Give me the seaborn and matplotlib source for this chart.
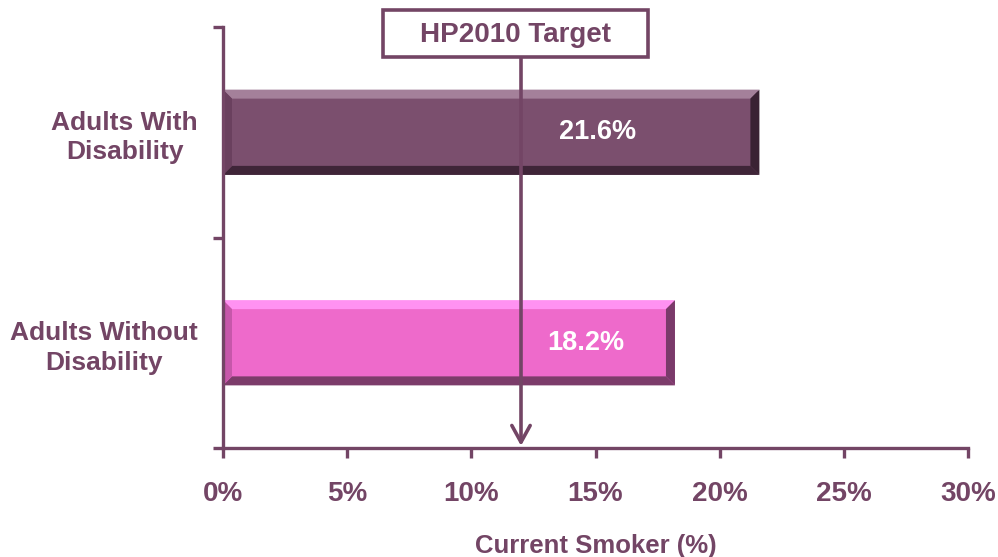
import matplotlib
matplotlib.use("Agg")
import matplotlib.pyplot as plt
import matplotlib.transforms as mtransforms
from matplotlib.patches import Polygon, Rectangle
import seaborn as sns
import pandas as pd

categories = ["Adults With\nDisability", "Adults Without\nDisability"]
values = [21.6, 18.2]
value_labels = ["21.6%", "18.2%"]
target_value = 12.0
target_label = "HP2010 Target"
x_ticks = [0, 5, 10, 15, 20, 25, 30]
x_tick_labels = ["0%", "5%", "10%", "15%", "20%", "25%", "30%"]
x_label = "Current Smoker (%)"

PURPLE = "#734565"
bar_colors = ["#7B4F6E", "#EE6ACB"]
label_offsets = [-6.5, -3.6]
bevel_colors = [
    # top, bottom, left, right
    ("#A4809A", "#3F2538", "#6A405E", "#3A2233"),
    ("#FF92F2", "#7C3C6A", "#C657AA", "#7A3A6A"),
]

sns.set_theme(style="white")
plt.rcParams["font.family"] = ["Liberation Sans", "DejaVu Sans"]

fig = plt.figure(figsize=(9.98, 5.57), dpi=100)
ax = fig.add_axes([223 / 998, 1 - 448 / 557, (968 - 223) / 998, (448 - 27) / 557])

df = pd.DataFrame({"cat": categories, "val": values})
sns.barplot(data=df, x="val", y="cat", hue="cat", palette=bar_colors,
            orient="h", width=0.405, legend=False, ax=ax, saturation=1)

ax.set_xlim(0, 30)
ax.set_ylim(1.5, -0.5)

fig.canvas.draw()
# bevel effect derived from each bar's geometry
inv = ax.transData.inverted()
for patch, (ct, cb, cl, cr) in zip(ax.patches, bevel_colors):
    x0, y0 = patch.get_x(), patch.get_y()
    w, h = patch.get_width(), patch.get_height()
    x1, y1 = x0 + w, y0 + h
    p0 = ax.transData.transform((x0, y0))
    pb = inv.transform((p0[0] + 9, p0[1] - 9))
    dx = pb[0] - x0
    dy = pb[1] - y0
    top = Polygon([(x0, y0), (x1, y0), (x1 - dx, y0 + dy), (x0 + dx, y0 + dy)], closed=True, color=ct, lw=0)
    bot = Polygon([(x0, y1), (x1, y1), (x1 - dx, y1 - dy), (x0 + dx, y1 - dy)], closed=True, color=cb, lw=0)
    lef = Polygon([(x0, y0), (x0 + dx, y0 + dy), (x0 + dx, y1 - dy), (x0, y1)], closed=True, color=cl, lw=0)
    rig = Polygon([(x1, y0), (x1 - dx, y0 + dy), (x1 - dx, y1 - dy), (x1, y1)], closed=True, color=cr, lw=0)
    for p in (top, bot, lef, rig):
        ax.add_patch(p)

for i, (v, lab, off) in enumerate(zip(values, value_labels, label_offsets)):
    ax.text(v + off, i, lab, ha="center", va="center", color="white",
            fontsize=19.5, fontweight="bold")

# axes styling
for s in ["top", "right"]:
    ax.spines[s].set_visible(False)
for s in ["left", "bottom"]:
    ax.spines[s].set_color(PURPLE)
    ax.spines[s].set_linewidth(2.4)
ax.spines["bottom"].set_bounds(0, 30)

ax.set_xticks(x_ticks)
ax.set_xticklabels(x_tick_labels)
ax.tick_params(axis="x", direction="out", length=7, width=2.4, color=PURPLE,
               pad=17, labelsize=20, labelcolor=PURPLE, bottom=True)
for t in ax.get_xticklabels():
    t.set_fontweight("bold")

ax.set_yticks([0, 1])
ax.set_yticklabels(categories, linespacing=1.3)
ax.set_yticks([-0.5, 0.5, 1.5], minor=True)
ax.tick_params(axis="y", which="major", length=0, pad=18, labelsize=19, labelcolor=PURPLE)
ax.tick_params(axis="y", which="minor", direction="out", length=7, width=2.4,
               color=PURPLE, left=True)
for t in ax.get_yticklabels():
    t.set_fontweight("bold")
    t.set_multialignment("center")

ax.set_xlabel(x_label, fontsize=18.5, fontweight="bold", color=PURPLE, labelpad=19)
ax.set_ylabel("")

# target box and arrow
bx0, by0, bw, bh = 383 / 998, 1 - 57 / 557, 265 / 998, 47 / 557
fig.patches.append(Rectangle((bx0, by0), bw, bh, transform=fig.transFigure,
                             facecolor="white", edgecolor=PURPLE, lw=2.6, zorder=5))
fig.text(bx0 + bw / 2, by0 + bh / 2 - 0.002, target_label, ha="center", va="center",
         fontsize=20, fontweight="bold", color=PURPLE, zorder=6)

blend = mtransforms.blended_transform_factory(ax.transData, fig.transFigure)
ax.annotate("", xy=(target_value, 1.49), xycoords="data",
            xytext=(target_value, by0), textcoords=blend,
            arrowprops=dict(arrowstyle="->,head_length=1.0,head_width=0.55",
                            color=PURPLE, lw=2.6, shrinkA=0, shrinkB=0),
            annotation_clip=False, zorder=4)

fig.savefig("out.png", dpi=100)
